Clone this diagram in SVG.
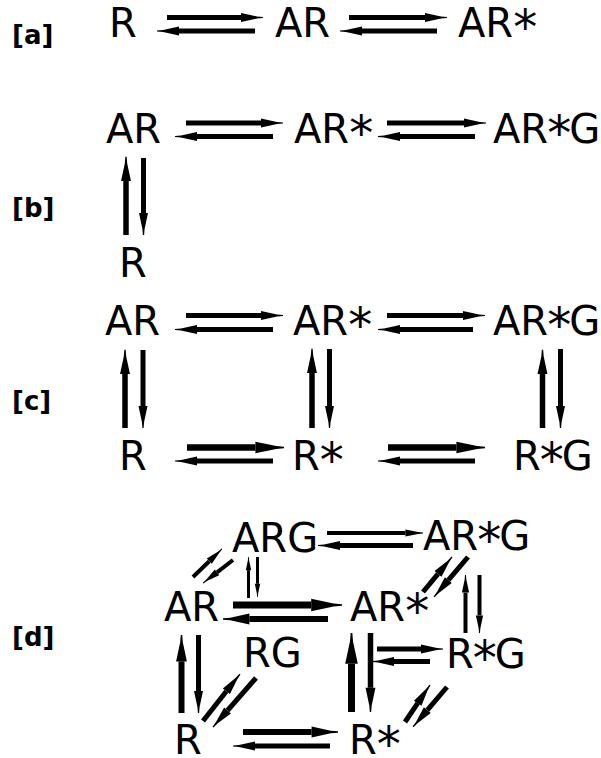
<svg xmlns="http://www.w3.org/2000/svg" width="601" height="758" viewBox="0 0 601 758">
<style>
.n{font-family:"DejaVu Sans","Verdana",sans-serif;font-size:40px;fill:#000}
.s{font-size:48px}
.lb{font-family:"DejaVu Sans","Verdana",sans-serif;font-size:26px;font-weight:bold;fill:#000}
.a{stroke:#000;fill:none;stroke-linecap:butt;marker-end:url(#h)}
</style>
<defs>
<marker id="h" markerUnits="strokeWidth" markerWidth="4.4" markerHeight="2" viewBox="0 -1 4.4 2" refX="0" refY="0" orient="auto" overflow="visible">
<path d="M0,-0.9 L3.2,-0.22 L4.4,-0.12 L4.4,0.12 L3.2,0.22 L0,0.9 Z" fill="#000"/>
</marker>
</defs>
<rect width="601" height="758" fill="#fff"/>
<g id="labels">
<text class="lb" x="12" y="44">[a]</text>
<text class="lb" x="12" y="217">[b]</text>
<text class="lb" x="12" y="410">[c]</text>
<text class="lb" x="12" y="646">[d]</text>
</g>
<g id="a-R"><text class="n" x="109" y="37">R</text></g>
<g id="a-AR"><text class="n" x="275" y="37">AR</text></g>
<g id="a-ARs"><text class="n" x="458" y="37">AR<tspan class="s" dy="7">*</tspan></text></g>
<g id="b-AR"><text class="n" x="106" y="143">AR</text></g>
<g id="b-ARs"><text class="n" x="294" y="143">AR<tspan class="s" dy="7">*</tspan></text></g>
<g id="b-ARsG"><text class="n" x="493" y="143">AR<tspan class="s" dx="-1" dy="7">*</tspan><tspan dx="-2" dy="-7">G</tspan></text></g>
<g id="b-R"><text class="n" x="119" y="277">R</text></g>
<g id="c-AR"><text class="n" x="105" y="335">AR</text></g>
<g id="c-ARs"><text class="n" x="293" y="335">AR<tspan class="s" dy="7">*</tspan></text></g>
<g id="c-ARsG"><text class="n" x="493" y="335">AR<tspan class="s" dx="-1" dy="7">*</tspan><tspan dx="-2" dy="-7">G</tspan></text></g>
<g id="c-R"><text class="n" x="119" y="470">R</text></g>
<g id="c-Rs"><text class="n" x="292" y="470">R<tspan class="s" dy="7">*</tspan></text></g>
<g id="c-RsG"><text class="n" x="513" y="470">R<tspan class="s" dx="-1" dy="7">*</tspan><tspan dx="-2" dy="-7">G</tspan></text></g>
<g id="d-ARG"><text class="n" x="232" y="552">ARG</text></g>
<g id="d-ARsG"><text class="n" x="423" y="550">AR<tspan class="s" dx="-1" dy="7">*</tspan><tspan dx="-2" dy="-7">G</tspan></text></g>
<g id="d-AR"><text class="n" x="164" y="621">AR</text></g>
<g id="d-ARs"><text class="n" x="350" y="621">AR<tspan class="s" dy="7">*</tspan></text></g>
<g id="d-RG"><text class="n" x="243" y="667">RG</text></g>
<g id="d-RsG"><text class="n" x="446" y="668">R<tspan class="s" dx="-1" dy="7">*</tspan><tspan dx="-2" dy="-7">G</tspan></text></g>
<g id="d-R"><text class="n" x="174" y="754">R</text></g>
<g id="d-Rs"><text class="n" x="349" y="754">R<tspan class="s" dy="7">*</tspan></text></g>
<g id="connectors">
<!-- a -->
<line class="a" stroke-width="5" x1="167" y1="17.5" x2="241" y2="17.5"/>
<line class="a" stroke-width="5" x1="255" y1="31" x2="179" y2="31"/>
<line class="a" stroke-width="5" x1="349" y1="17.5" x2="425" y2="17.5"/>
<line class="a" stroke-width="5" x1="437" y1="31" x2="362" y2="31"/>
<!-- b -->
<line class="a" stroke-width="5" x1="186" y1="123" x2="261" y2="123"/>
<line class="a" stroke-width="5" x1="273" y1="136.5" x2="197" y2="136.5"/>
<line class="a" stroke-width="5" x1="387" y1="123" x2="464" y2="123"/>
<line class="a" stroke-width="5" x1="475" y1="136.5" x2="400" y2="136.5"/>
<line class="a" stroke-width="5.5" x1="126" y1="235" x2="126" y2="181"/>
<line class="a" stroke-width="5" x1="143.5" y1="158" x2="143.5" y2="213"/>
<!-- c -->
<line class="a" stroke-width="5" x1="186" y1="315.5" x2="261" y2="315.5"/>
<line class="a" stroke-width="5" x1="273" y1="329.5" x2="197" y2="329.5"/>
<line class="a" stroke-width="5" x1="387" y1="315.5" x2="463" y2="315.5"/>
<line class="a" stroke-width="5" x1="473" y1="329.5" x2="400" y2="329.5"/>
<line class="a" stroke-width="5.5" x1="125" y1="428" x2="125" y2="374"/>
<line class="a" stroke-width="5" x1="143" y1="350" x2="143" y2="406"/>
<line class="a" stroke-width="5.5" x1="312" y1="428" x2="312" y2="373"/>
<line class="a" stroke-width="5" x1="329.5" y1="349" x2="329.5" y2="406"/>
<line class="a" stroke-width="5.5" x1="542.5" y1="428" x2="542.5" y2="374"/>
<line class="a" stroke-width="5" x1="560.5" y1="349" x2="560.5" y2="406"/>
<line class="a" stroke-width="6.5" x1="187" y1="447.5" x2="255.4" y2="447.5"/>
<line class="a" stroke-width="5" x1="273" y1="461" x2="197" y2="461"/>
<line class="a" stroke-width="6.5" x1="388" y1="447.5" x2="456.4" y2="447.5"/>
<line class="a" stroke-width="5" x1="475" y1="461" x2="400" y2="461"/>
<!-- d -->
<line class="a" stroke-width="4" x1="327" y1="533" x2="405.4" y2="533"/>
<line class="a" stroke-width="5" x1="413" y1="545.5" x2="340" y2="545.5"/>
<line class="a" stroke-width="7" x1="233" y1="605" x2="311.2" y2="605"/>
<line class="a" stroke-width="6" x1="328" y1="619" x2="249.4" y2="619"/>
<line class="a" stroke-width="3" x1="248.5" y1="598" x2="248.5" y2="570.2"/>
<line class="a" stroke-width="3" x1="257.5" y1="557" x2="257.5" y2="583.8"/>
<line class="a" stroke-width="4" x1="193" y1="577" x2="209.3" y2="561.2"/>
<line class="a" stroke-width="4" x1="233" y1="560" x2="217" y2="572.3"/>
<line class="a" stroke-width="5" x1="423" y1="592" x2="438" y2="573.9"/>
<line class="a" stroke-width="5" x1="468" y1="557" x2="448.3" y2="580.2"/>
<line class="a" stroke-width="4" x1="465.5" y1="633" x2="465.5" y2="592.6"/>
<line class="a" stroke-width="4" x1="479.5" y1="575" x2="479.5" y2="615.4"/>
<line class="a" stroke-width="6" x1="181.5" y1="713" x2="181.5" y2="661.4"/>
<line class="a" stroke-width="5" x1="198.5" y1="635" x2="198.5" y2="691"/>
<line class="a" stroke-width="5" x1="203" y1="721" x2="226.4" y2="691.3"/>
<line class="a" stroke-width="5" x1="256" y1="678" x2="227.5" y2="710.5"/>
<line class="a" stroke-width="7" x1="351.5" y1="712" x2="351.5" y2="663.8"/>
<line class="a" stroke-width="5.5" x1="370.5" y1="633" x2="370.5" y2="687.8"/>
<line class="a" stroke-width="5" x1="377" y1="649" x2="421" y2="649"/>
<line class="a" stroke-width="5" x1="430" y1="661.5" x2="394" y2="661.5"/>
<line class="a" stroke-width="5" x1="405" y1="722" x2="417.7" y2="703.2"/>
<line class="a" stroke-width="5" x1="447" y1="687" x2="427.3" y2="710.2"/>
<line class="a" stroke-width="6" x1="243" y1="732" x2="311.6" y2="732"/>
<line class="a" stroke-width="5" x1="330" y1="746" x2="255" y2="746"/>
</g>
</svg>
